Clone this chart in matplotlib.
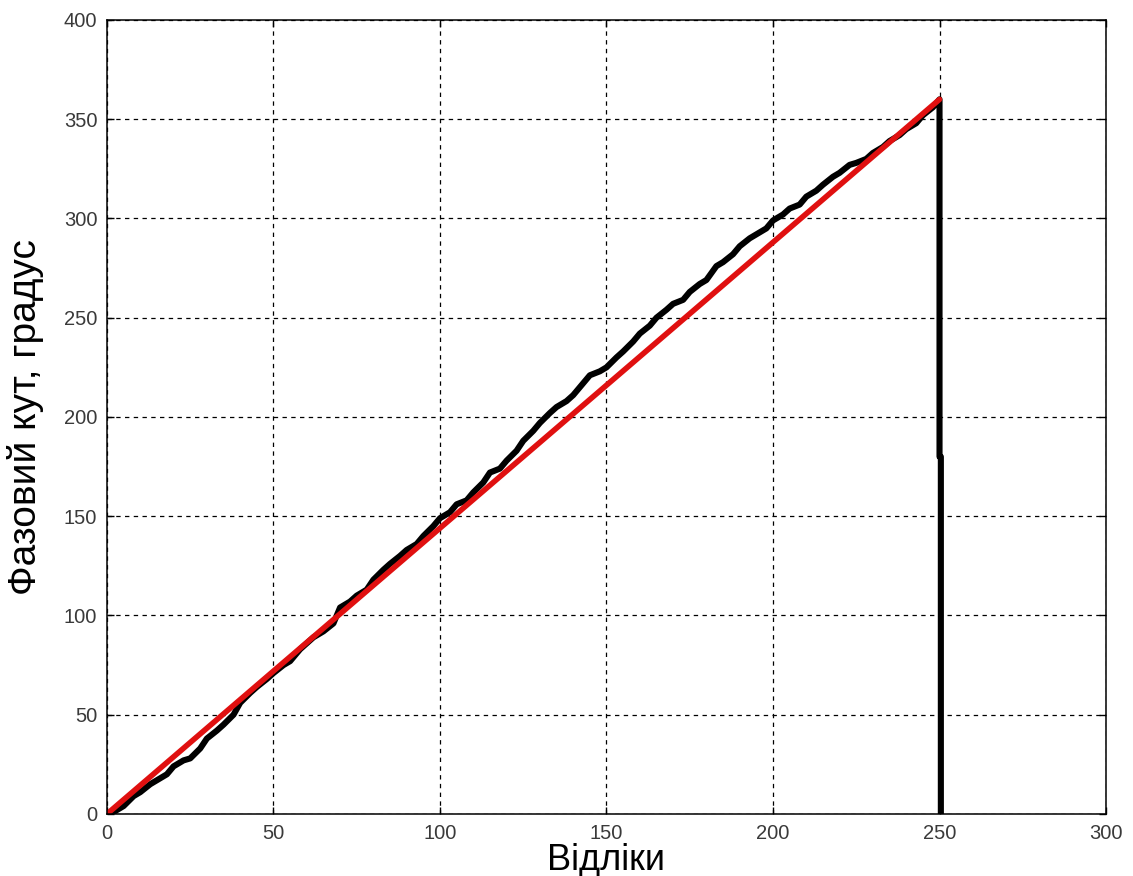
import numpy as np
import matplotlib.pyplot as plt

plt.rcParams['font.family'] = ['Liberation Sans', 'DejaVu Sans']

# measured phase, then the wrap back to zero at the end of the record
samples = [0, 2, 5, 8, 10, 13, 15, 18, 20, 23, 25, 28, 30, 33, 35, 38, 40, 43,
           45, 48, 50, 53, 55, 58, 60, 62, 65, 68, 70, 73, 75, 78, 80, 83, 85,
           88, 90, 93, 95, 98, 100, 103, 105, 108, 110, 113, 115, 118, 120, 123,
           125, 128, 130, 133, 135, 138, 140, 143, 145, 148, 150, 153, 155, 158,
           160, 163, 165, 168, 170, 173, 175, 178, 180, 183, 185, 188, 190, 193,
           195, 198, 200, 203, 205, 208, 210, 213, 215, 218, 220, 223, 225, 228,
           230, 233, 235, 238, 240, 243, 245, 248, 250, 250, 250.4, 250.4]
phase = [0, 1, 4, 9, 11, 15, 17, 20, 24, 27, 28, 33, 38, 42, 45, 50, 56, 61,
         64, 68, 71, 75, 77, 83, 86, 89, 92, 96, 104, 107, 110, 113, 118, 123, 126,
         130, 133, 136, 140, 145, 149, 152, 156, 158, 162, 167, 172, 174, 178, 183,
         188, 193, 197, 202, 205, 208, 211, 217, 221, 223, 225, 230, 233, 238,
         242, 246, 250, 254, 257, 259, 263, 267, 269, 276, 278, 282, 286, 290,
         292, 295, 299, 302, 305, 307, 311, 314, 317, 321, 323, 327, 328, 330,
         333, 336, 339, 342, 345, 348, 352, 356, 360, 180, 180, 0]

# ideal linear phase
ref_x = [0, 250]
ref_y = [0, 360]

fig = plt.figure(figsize=(11.33, 8.76), dpi=100)
ax = fig.add_axes([0.0944, 0.0708, 0.8818, 0.9064])

ax.plot(samples, phase, color='black', linewidth=4.4, solid_joinstyle='round')
ax.plot(ref_x, ref_y, color='#e01010', linewidth=4.0, solid_capstyle='round')

ax.set_xlim(0, 300)
ax.set_ylim(0, 400)
ax.set_xticks(np.arange(0, 301, 50))
ax.set_yticks(np.arange(0, 401, 50))
ax.grid(True, color='black', linestyle=(0, (3.5, 3.5)), linewidth=0.9)
ax.tick_params(direction='in', top=True, right=True, length=5, width=1,
               labelsize=14.5, labelcolor='#3a3a3a', pad=7)
for s in ax.spines.values():
    s.set_linewidth(1.1)

ax.set_xlabel('Відліки', fontsize=26, labelpad=0)
ax.set_ylabel('Фазовий кут, градус', fontsize=28, labelpad=14)

fig.savefig('out.png', dpi=100)
